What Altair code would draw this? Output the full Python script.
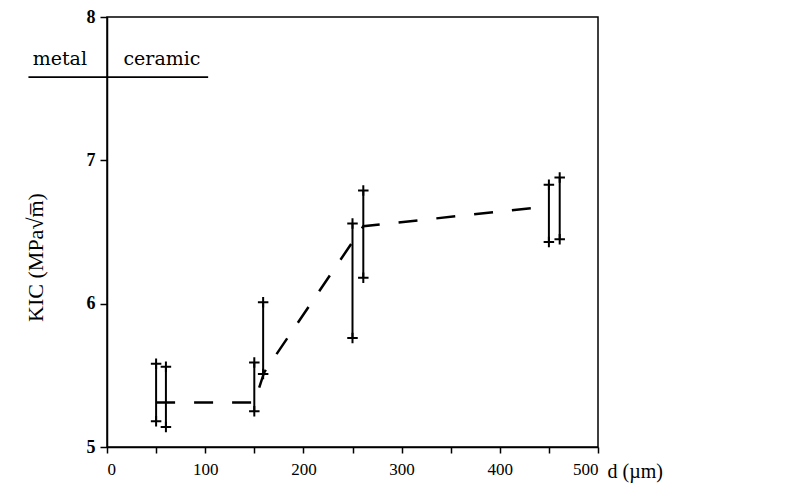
import altair as alt
import pandas as pd

# error bars (grain size d in µm, KIC range)
bar_x = [50, 60, 150, 159, 250, 261, 450, 461]
bar_lo = [5.18, 5.14, 5.25, 5.51, 5.76, 6.18, 6.43, 6.45]
bar_hi = [5.58, 5.56, 5.59, 6.01, 6.56, 6.79, 6.83, 6.88]

# dashed trend line
line_x = [50, 150, 160, 250, 261, 450]
line_y = [5.31, 5.31, 5.52, 6.43, 6.54, 6.68]

x_ticks = list(range(0, 501, 50))
y_ticks = [5, 5.5, 6, 6.5, 7, 7.5, 8]

bars = pd.DataFrame({"d": bar_x, "lo": bar_lo, "hi": bar_hi})
ends = pd.DataFrame({"d": bar_x + bar_x, "k": bar_lo + bar_hi})
trend = pd.DataFrame({"d": line_x, "k": line_y})

serif = "Liberation Serif"

xscale = alt.Scale(domain=[0, 500], nice=False, zero=False)
yscale = alt.Scale(domain=[5, 8], nice=False, zero=False)

xaxis = alt.Axis(
    values=x_ticks, format="d",
    labelExpr="datum.value % 100 === 0 ? datum.label : ''",
    title="d (µm)",
    titleX=500, titleY=30, titleAlign="left", titleBaseline="alphabetic",
    titleFont=serif, titleFontSize=20, titleFontWeight="normal",
    labelFont=serif, labelFontSize=17, labelPadding=8,
    tickSize=6, grid=False, domainColor="black", tickColor="black",
    labelColor="black", titleColor="black", domainWidth=1.5, tickWidth=1.5,
)
yaxis = alt.Axis(
    values=y_ticks, format="d",
    labelExpr="datum.value % 1 === 0 ? datum.label : ''",
    title="KIC (MPa√m\u0305)",
    titleX=-72, titleY=240, titleAngle=-90, titleBaseline="middle",
    titleAlign="center",
    titleFont=serif, titleFontSize=22, titleFontWeight="normal",
    labelFont=serif, labelFontSize=18, labelFontWeight="bold", labelPadding=5,
    tickSize=7, grid=False, domainColor="black", tickColor="black",
    labelColor="black", titleColor="black", domainWidth=1.5, tickWidth=1.5,
)

base = alt.Chart(bars)

rules = base.mark_rule(color="black", strokeWidth=2).encode(
    x=alt.X("d:Q", scale=xscale, axis=xaxis),
    y=alt.Y("lo:Q", scale=yscale, axis=yaxis),
    y2="hi:Q",
)

plus = alt.Chart(ends).mark_point(
    shape="M-1,0L1,0M0,-1L0,1", size=110, filled=False,
    color="black", strokeWidth=2, opacity=1,
).encode(x=alt.X("d:Q", scale=xscale), y=alt.Y("k:Q", scale=yscale))

line = alt.Chart(trend).mark_line(
    color="black", strokeWidth=2.5, strokeDash=[19, 19],
).encode(x=alt.X("d:Q", scale=xscale), y=alt.Y("k:Q", scale=yscale))

sep = pd.DataFrame({"x1": [-80], "x2": [103], "y": [7.58]})
sep_rule = alt.Chart(sep).mark_rule(color="black", strokeWidth=1.8).encode(
    x=alt.X("x1:Q", scale=xscale), x2="x2:Q", y=alt.Y("y:Q", scale=yscale)
)

labels = pd.DataFrame({"x": [-48, 56], "y": [7.71, 7.71], "t": ["metal", "ceramic"]})
label_text = alt.Chart(labels).mark_text(
    font="DejaVu Serif", fontSize=19, color="black", align="center", baseline="middle"
).encode(x=alt.X("x:Q", scale=xscale), y=alt.Y("y:Q", scale=yscale), text="t:N")

chart = alt.layer(rules, plus, line, sep_rule, label_text).properties(
    width=491, height=430,
    autosize=alt.AutoSizeParams(type="none"),
    padding={"left": 99, "top": 9, "right": 194, "bottom": 43},
    background="white",
).configure_view(stroke="black", strokeWidth=1.5)

chart.save("out.html", embed_options={"renderer": "svg", "actions": False})
